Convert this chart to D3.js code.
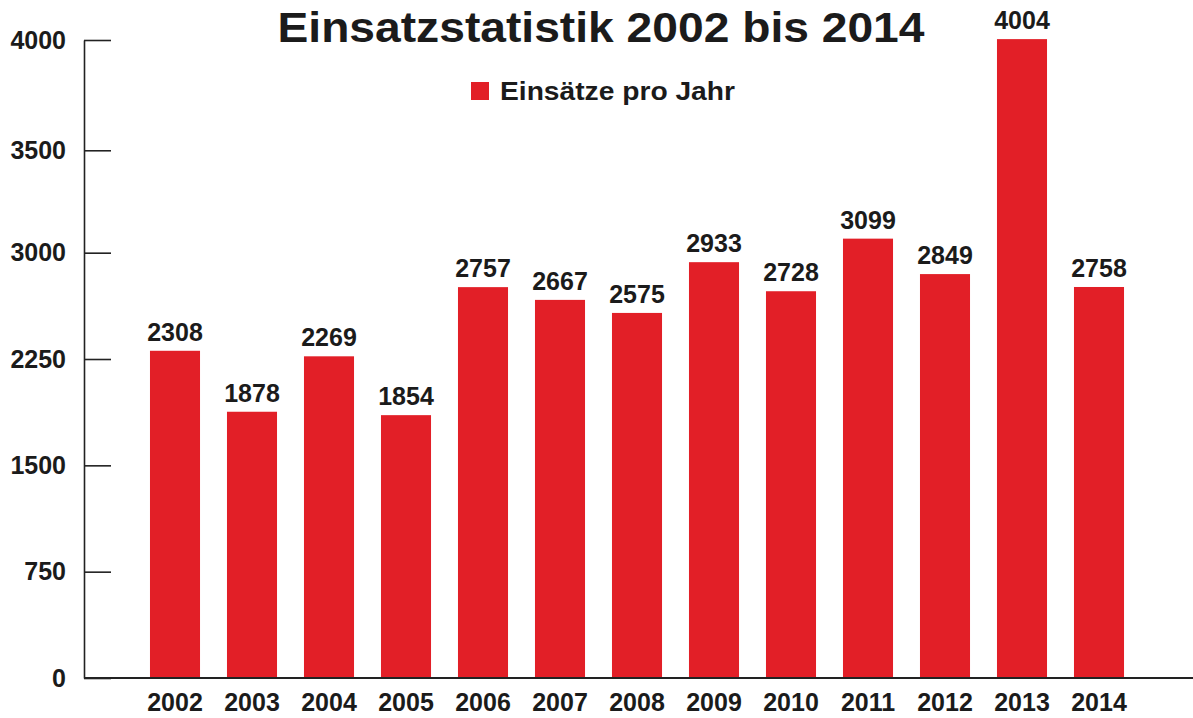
<!DOCTYPE html>
<html>
<head>
<meta charset="utf-8">
<script src="https://cdn.jsdelivr.net/npm/d3@7"></script>
<style>
  body { margin: 0; background: #fff; }
  text { font-family: "Liberation Sans", Arial, Helvetica, sans-serif; font-weight: bold; fill: #1b1b1b; }
</style>
</head>
<body>
<div id="chart"></div>
<script>
/* Einsatzstatistik bar chart */

// data
const years = ["2002", "2003", "2004", "2005", "2006", "2007", "2008", "2009", "2010", "2011", "2012", "2013", "2014"];
const einsaetze = [2308, 1878, 2269, 1854, 2757, 2667, 2575, 2933, 2728, 3099, 2849, 4004, 2758];
const yTicks = [0, 750, 1500, 2250, 3000, 3500, 4000];
const seriesName = "Einsätze pro Jahr";
const title = "Einsatzstatistik 2002 bis 2014";

const data = years.map((y, i) => ({year: y, value: einsaetze[i]}));

const width = 1193,
    height = 718,
    margin = ({top: 40, right: 0, bottom: 40, left: 84});

const red = "#e21f27";

let svg = d3.select("#chart")
    .append("svg")
    .attr("width", width)
    .attr("height", height)
    .attr("viewBox", [0, 0, width, height]);

// bands: step 77, bars 50 wide
let x = d3.scaleBand()
    .domain(years)
    .range([136.5, 1137.5])
    .paddingInner(0.35)
    .paddingOuter(0.175);

// the original axis is squeezed above ~3100, so the scale is piecewise
let y = d3.scaleLinear()
    .domain([0, 3100, 4000])
    .range([678, 238.5, 40]);

// y axis, ticks pointing into the plot
const yAxis = g => g
    .attr("transform", `translate(${margin.left},0)`)
    .call(d3.axisLeft(y)
        .tickValues(yTicks)
        .tickFormat(d => d)
        .tickSizeInner(-27)
        .tickSizeOuter(0)
        .tickPadding(18))
    .call(g => g.select(".domain").attr("stroke", "#222").attr("stroke-width", 1.6))
    .call(g => g.selectAll(".tick line").attr("stroke", "#222").attr("stroke-width", 1.6))
    .call(g => g.selectAll(".tick text")
        .attr("font-size", 25)
        .attr("font-family", null)
        .attr("fill", "#1b1b1b"));

svg.append("g").call(yAxis);

// bars
svg.selectAll(".bar")
    .data(data)
    .join("rect")
    .attr("class", "bar")
    .attr("fill", red)
    .attr("x", d => x(d.year))
    .attr("width", x.bandwidth())
    .attr("y", d => y(d.value))
    .attr("height", d => y(0) - y(d.value));

// baseline running out to the right edge
svg.append("line")
    .attr("x1", margin.left)
    .attr("x2", width)
    .attr("y1", y(0))
    .attr("y2", y(0))
    .attr("stroke", "#222")
    .attr("stroke-width", 1.8);

// x labels
const xAxis = g => g
    .attr("transform", `translate(0,${y(0)})`)
    .call(d3.axisBottom(x).tickSize(0).tickPadding(15))
    .call(g => g.select(".domain").remove())
    .call(g => g.selectAll(".tick text")
        .attr("font-size", 25)
        .attr("font-family", null)
        .attr("fill", "#1b1b1b"));

svg.append("g").call(xAxis);

// value labels
svg.selectAll(".val")
    .data(data)
    .join("text")
    .attr("class", "val")
    .attr("x", d => x(d.year) + x.bandwidth() / 2)
    .attr("y", d => y(d.value) - 10)
    .attr("text-anchor", "middle")
    .attr("font-size", 25)
    .text(d => d.value);

// title
svg.append("text")
    .attr("x", 601)
    .attr("y", 42)
    .attr("text-anchor", "middle")
    .attr("font-size", 43)
    .attr("textLength", 647)
    .attr("lengthAdjust", "spacingAndGlyphs")
    .text(title);

// legend
svg.append("rect")
    .attr("x", 471)
    .attr("y", 82)
    .attr("width", 18)
    .attr("height", 18)
    .attr("fill", red);

svg.append("text")
    .attr("x", 500)
    .attr("y", 100)
    .attr("font-size", 25)
    .attr("textLength", 235)
    .attr("lengthAdjust", "spacingAndGlyphs")
    .text(seriesName);
</script>
</body>
</html>
